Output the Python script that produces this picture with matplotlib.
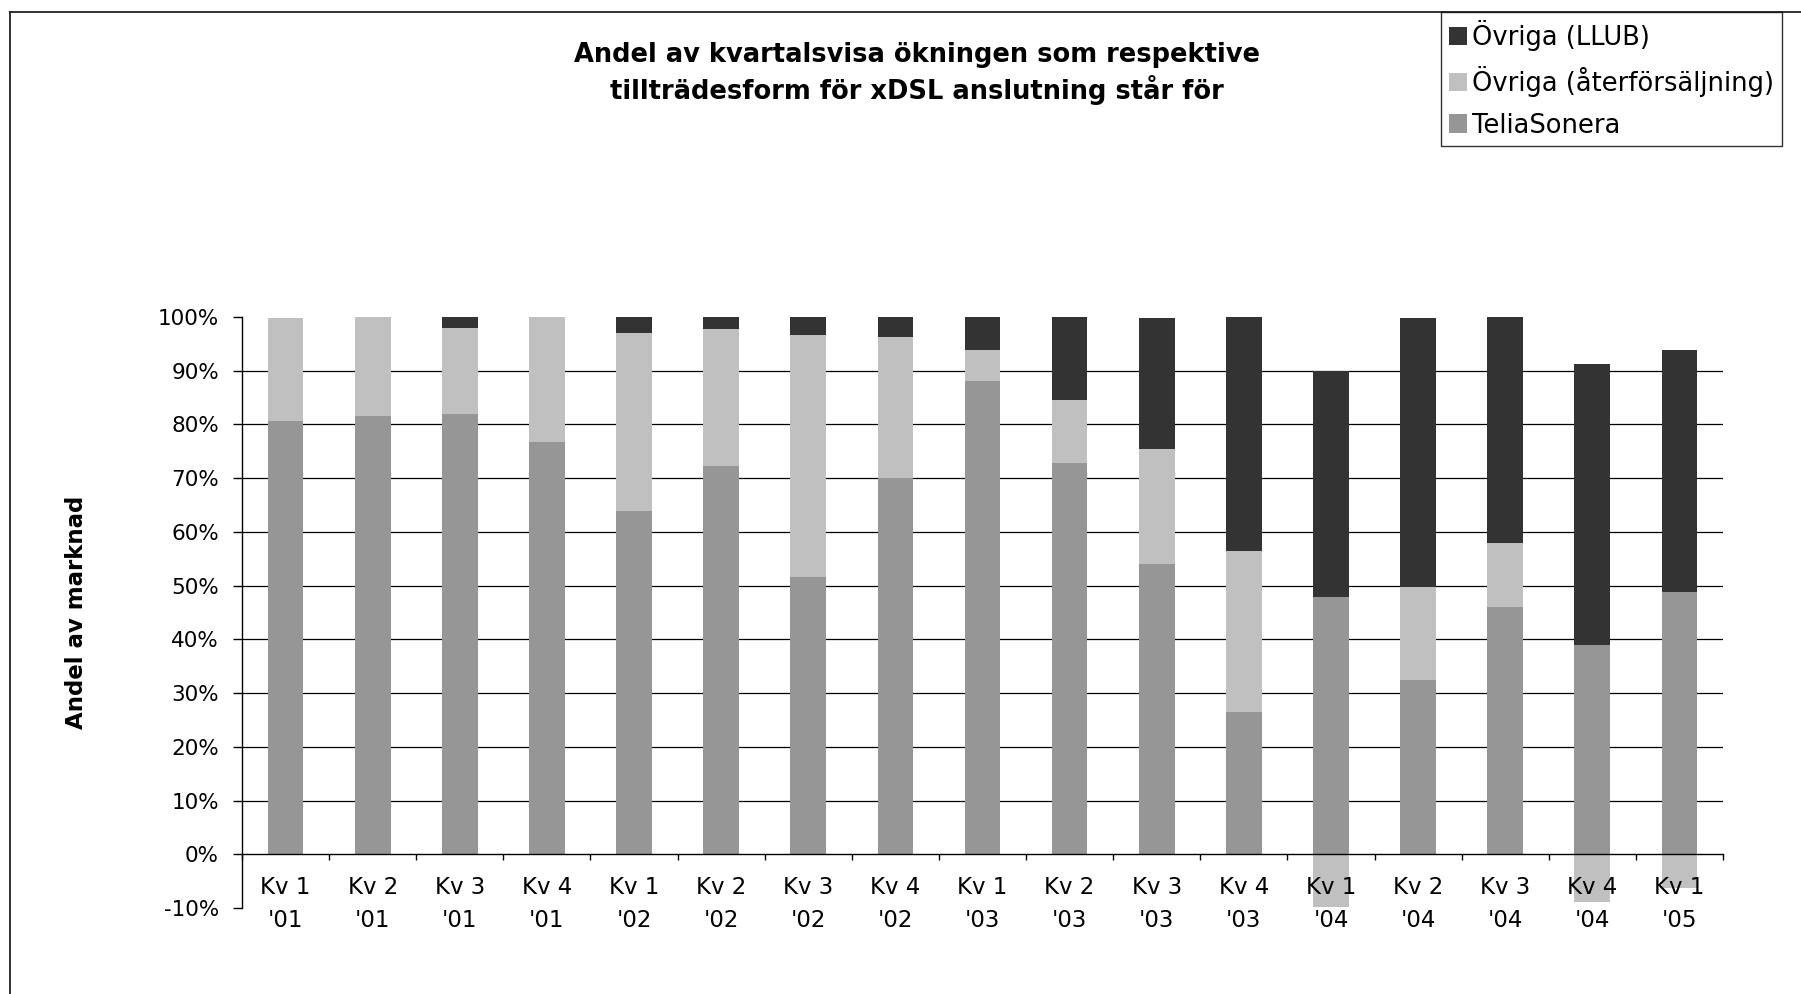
import numpy as np
import matplotlib
matplotlib.use("Agg")
import matplotlib.pyplot as plt
from matplotlib.lines import Line2D

# quarter labels and shares (%)
quarters = ["Kv 1\n'01", "Kv 2\n'01", "Kv 3\n'01", "Kv 4\n'01",
            "Kv 1\n'02", "Kv 2\n'02", "Kv 3\n'02", "Kv 4\n'02",
            "Kv 1\n'03", "Kv 2\n'03", "Kv 3\n'03", "Kv 4\n'03",
            "Kv 1\n'04", "Kv 2\n'04", "Kv 3\n'04", "Kv 4\n'04",
            "Kv 1\n'05"]
telia = [80.6, 81.5, 82.0, 76.8, 63.9, 72.2, 51.7, 70.1, 88.0,
         72.9, 54.0, 26.5, 47.8, 32.4, 46.1, 38.9, 48.9]
resale = [19.2, 18.5, 16.0, 23.2, 33.1, 25.5, 44.9, 26.1, 5.8,
          11.6, 21.5, 29.9, -9.9, 17.3, 11.8, -8.9, -6.2]
llub = [0.0, 0.0, 2.0, 0.0, 3.0, 2.3, 3.4, 3.8, 6.2,
        15.5, 24.4, 43.6, 42.2, 50.2, 42.1, 52.3, 44.9]

y_ticks = [-10, 0, 10, 20, 30, 40, 50, 60, 70, 80, 90, 100]
y_ticklabels = ["-10%", "0%", "10%", "20%", "30%", "40%", "50%",
                "60%", "70%", "80%", "90%", "100%"]
grid_vals = [10, 20, 30, 40, 50, 60, 70, 80, 90]

series = [
    ("TeliaSonera", telia, "#969696"),
    ("Övriga (återförsäljning)", resale, "#c0c0c0"),
    ("Övriga (LLUB)", llub, "#333333"),
]

W, H = 1801, 994
fig = plt.figure(figsize=(W / 100, H / 100), dpi=100)
ax = fig.add_axes([242 / W, 1 - 908 / H, (1723 - 242) / W, (908 - 317) / H])
ax.set_axisbelow(False)

x = np.arange(len(quarters))
pos_base = np.zeros(len(x))
neg_base = np.zeros(len(x))
handles = {}
for name, vals, col in series:
    v = np.array(vals)
    bottom = np.where(v >= 0, pos_base, neg_base)
    b = ax.bar(x, v, width=0.41, bottom=bottom, color=col, zorder=2, label=name)
    handles[name] = b
    pos_base = pos_base + np.clip(v, 0, None)
    neg_base = neg_base + np.clip(v, None, 0)

ax.hlines(grid_vals, -0.5, len(x) - 0.5, color="black", lw=0.9, zorder=1)

ax.set_xlim(-0.5, len(x) - 0.5)
ax.set_ylim(-10, 100)
ax.set_yticks(y_ticks)
ax.set_yticklabels(y_ticklabels)
ax.set_xticks(x)
ax.set_xticklabels(quarters)
ax.set_xticks(np.arange(len(x) + 1) - 0.5, minor=True)

for s in ["top", "right"]:
    ax.spines[s].set_visible(False)
ax.spines["bottom"].set_position(("data", 0))
ax.spines["bottom"].set_zorder(3)
ax.spines["left"].set_linewidth(1.0)
ax.spines["bottom"].set_linewidth(1.0)

ax.tick_params(axis="y", direction="out", length=6.5, width=1.0, pad=10, labelsize=15.5)
ax.tick_params(axis="x", which="major", length=0, pad=16, labelsize=16.5)
ax.tick_params(axis="x", which="minor", direction="out", length=4.5, width=1.0)
for lab in ax.get_xticklabels():
    lab.set_linespacing(1.55)

ax.set_ylabel("Andel av marknad", fontsize=16.5, fontweight="bold", labelpad=50)

fig.text(917 / W, 1 - 73.5 / H,
         "Andel av kvartalsvisa ökningen som respektive\ntillträdesform för xDSL anslutning står för",
         ha="center", va="center", fontsize=18.5, fontweight="bold", linespacing=1.25)

order = ["Övriga (LLUB)", "Övriga (återförsäljning)", "TeliaSonera"]
leg = fig.legend([handles[n] for n in order], order, loc="upper right",
                 bbox_to_anchor=(1782 / W, 1 - 12 / H), borderaxespad=0,
                 fontsize=18.5, frameon=True, fancybox=False, shadow=False,
                 handlelength=0.72, handleheight=0.72, handletextpad=0.2,
                 labelspacing=0.6, borderpad=0.3)
leg.get_frame().set_edgecolor("black")
leg.get_frame().set_linewidth(1.0)

# outer chart frame (top and left edges visible)
fig.add_artist(Line2D([10 / W, 1], [1 - 12 / H, 1 - 12 / H], transform=fig.transFigure,
                      color="#222222", lw=1.3))
fig.add_artist(Line2D([10 / W, 10 / W], [0, 1 - 12 / H], transform=fig.transFigure,
                      color="#222222", lw=1.3))

fig.savefig("out.png", dpi=100)
